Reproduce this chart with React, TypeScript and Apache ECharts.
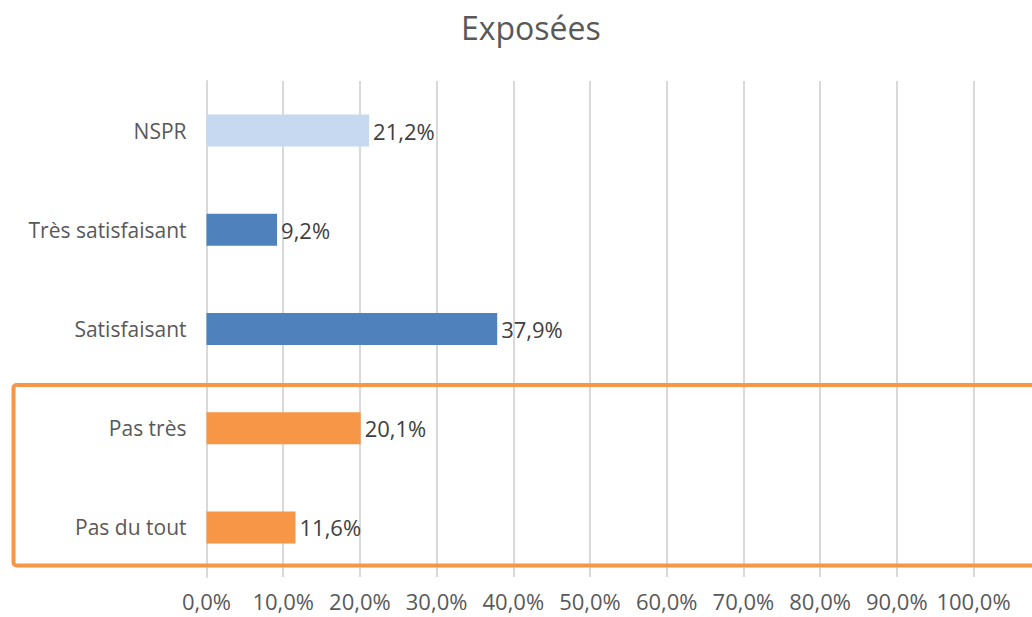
import React, { useEffect, useRef } from "react";
import * as echarts from "echarts";

const categories = ["Pas du tout", "Pas très", "Satisfaisant", "Très satisfaisant", "NSPR"];
const values = [11.6, 20.1, 37.9, 9.2, 21.2];
const barColors = ["#F79646", "#F79646", "#4F81BD", "#4F81BD", "#C6D9F0"];
const title = "Exposées";

export default function App() {
  const ref = useRef<HTMLDivElement>(null);
  useEffect(() => {
    document.body.style.margin = "0";
    const chart = echarts.init(ref.current!, null, { renderer: "svg" });
    const font = "'Open Sans', Lato, sans-serif";
    chart.setOption({
      animation: false,
      backgroundColor: "#FFFFFF",
      title: {
        text: title,
        left: 456,
        top: 6,
        textStyle: { fontFamily: font, fontSize: 32, fontWeight: "normal", color: "#595959" },
      },
      grid: { left: 206.5, top: 81, width: 767, height: 496 },
      xAxis: {
        type: "value",
        min: 0,
        max: 100,
        interval: 10,
        axisLine: { show: false },
        axisTick: { show: false },
        splitLine: { show: true, lineStyle: { color: "#D9D9D9", width: 2 } },
        axisLabel: {
          margin: 14,
          fontFamily: font,
          fontSize: 22,
          color: "#595959",
          lineHeight: 20,
          formatter: (v: number) => v.toFixed(1).replace(".", ",") + "%",
        },
      },
      yAxis: {
        type: "category",
        data: categories,
        axisLine: { show: true, lineStyle: { color: "#D9D9D9", width: 2 } },
        axisTick: { show: false },
        axisLabel: { margin: 20, fontFamily: font, fontSize: 21, color: "#595959" },
      },
      series: [
        {
          type: "bar",
          barWidth: 32,
          data: values.map((v, i) => ({ value: v, itemStyle: { color: barColors[i] } })),
          label: {
            show: true,
            position: "right",
            distance: 4,
            fontFamily: font,
            fontSize: 22,
            color: "#404040",
            formatter: (p: any) => p.value.toFixed(1).replace(".", ",") + "%",
          },
        },
      ],
      graphic: [
        {
          type: "rect",
          shape: { x: 13.5, y: 385, width: 1040, height: 180.5, r: 3 },
          style: { fill: "none", stroke: "#F79646", lineWidth: 4 },
          z: 100,
        },
      ],
    });
    return () => chart.dispose();
  }, []);
  return <div ref={ref} style={{ width: 1032, height: 617 }} />;
}
